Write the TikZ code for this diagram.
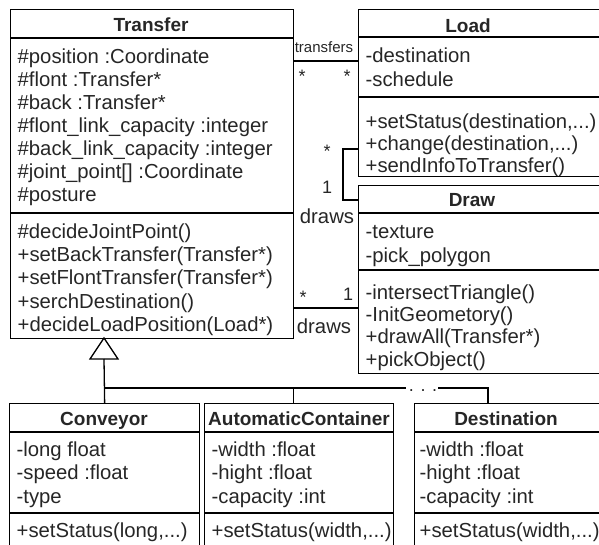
\documentclass[tikz,border=0pt]{standalone}
\usepackage{fontspec}
\setmainfont{Liberation Sans}
\newcommand\etcdots{...}
\begin{document}
\begin{tikzpicture}[x=1pt,y=-1pt,line width=1.3pt,
    every node/.style={inner sep=0pt,text=black!85,font=\fontsize{20.3}{23}\selectfont},
    classbox/.style={draw,anchor=north west},
    item/.style={anchor=base west},
    cname/.style={anchor=base,font=\fontsize{19}{23}\selectfont\bfseries},
    mult/.style={anchor=base,font=\fontsize{18}{20}\selectfont},
    role/.style={anchor=base}]
    \useasboundingbox (0,0) rectangle (599,545);
    \clip (0,0) rectangle (599,545);
    \node[classbox,minimum width=283,minimum height=329] (transfer) at (10,9) {};
    \node[classbox,minimum width=244,minimum height=167] (load) at (358,9) {};
    \node[classbox,minimum width=244,minimum height=188] (draw) at (358,185) {};
    \node[classbox,minimum width=190,minimum height=150] (conveyor) at (9,403) {};
    \node[classbox,minimum width=189,minimum height=150] (container) at (204,403) {};
    \node[classbox,minimum width=188,minimum height=150] (destination) at (414,403) {};
    \draw (10,38)--(293,38) (10,213)--(293,213);
    \draw (358,37)--(602,37) (358,97)--(602,97);
    \draw (358,213)--(602,213) (358,270)--(602,270);
    \foreach \a/\b in {9/199,204/393,414/602}
    {
        \draw (\a,432)--(\b,432) (\a,513)--(\b,513);
    }
    \node[cname] (transfer-name) at (151,32) {Transfer};
    \node[cname] (load-name) at (468,33) {Load};
    \node[cname] (draw-name) at (472,207) {Draw};
    \node[cname] (conveyor-name) at (104,425) {Conveyor};
    \node[cname] (container-name) at (299,425) {AutomaticContainer};
    \node[cname] (destination-name) at (506,425) {Destination};
    \foreach \txt [count=\i from 0] in {{\#position :Coordinate},{\#flont :Transfer*},
        {\#back :Transfer*},{\#flont\_link\_capacity :integer},{\#back\_link\_capacity :integer},
        {\#joint\_point[] :Coordinate},{\#posture}}
    {
        \node[item] (transfer-a\i) at (17,64+23*\i) {\txt};
    }
    \foreach \txt [count=\i from 0] in {{\#decideJointPoint()},{+setBackTransfer(Transfer*)},
        {+setFlontTransfer(Transfer*)},{+serchDestination()},{+decideLoadPosition(Load*)}}
    {
        \node[item] (transfer-m\i) at (17,238+23.4*\i) {\txt};
    }
    \foreach \txt [count=\i from 0] in {{-destination},{-schedule}}
    {
        \node[item] (load-a\i) at (365,63+23.5*\i) {\txt};
    }
    \foreach \txt [count=\i from 0] in {{+setStatus(destination,\etcdots)},{+change(destination,\etcdots)},
        {+sendInfoToTransfer()}}
    {
        \node[item] (load-m\i) at (365,129+21.8*\i) {\txt};
    }
    \foreach \txt [count=\i from 0] in {{-texture},{-pick\_polygon}}
    {
        \node[item] (draw-a\i) at (365,239+23*\i) {\txt};
    }
    \foreach \txt [count=\i from 0] in {{-intersectTriangle()},{-InitGeometory()},
        {+drawAll(Transfer*)},{+pickObject()}}
    {
        \node[item] (draw-m\i) at (365,299+22.4*\i) {\txt};
    }
    \foreach \x/\n/\p/\q/\r/\s in {16/conveyor/-long float/-speed :float/-type/{+setStatus(long,\etcdots)},
        211/container/-width :float/-hight :float/-capacity :int/{+setStatus(width,\etcdots)},
        419/destination/-width :float/-hight :float/-capacity :int/{+setStatus(width,\etcdots)}}
    {
        \node[item] (\n-a0) at (\x,456) {\p};
        \node[item] (\n-a1) at (\x,479) {\q};
        \node[item] (\n-a2) at (\x,503) {\r};
        \node[item] (\n-m0) at (\x,537) {\s};
    }
    \draw ([yshift=-52pt]transfer.north east)--([yshift=-52pt]load.north west);
    \node[role,font=\fontsize{15}{18}\selectfont] (transfers) at (324,53) {transfers};
    \node[mult] (tr-s1) at (302,83) {*};
    \node[mult] (tr-s2) at (347,83) {*};
    \draw ([yshift=-140pt]load.north west)--++(-15,0)|-([yshift=-15pt]draw.north west);
    \node[mult] (ld-s) at (327,158) {*};
    \node[mult] (ld-1) at (327,194) {1};
    \node[role] (draws-1) at (327,224) {draws};
    \draw ([yshift=-299pt]transfer.north east)--([yshift=-123pt]draw.north west);
    \node[mult] (td-s) at (303,303) {*};
    \node[mult] (td-1) at (348,300) {1};
    \node[role] (draws-2) at (324,333) {draws};
    \coordinate (apex) at (104,338);
    \draw (apex)--++(-14,21)--++(28,0)--cycle;
    \draw ([yshift=-21pt]apex)--(conveyor.north);
    \coordinate (bus) at (104,388);
    \coordinate (dots) at (423,388);
    \draw (bus)--([xshift=-17pt]dots);
    \node[mult] (more) at ([yshift=-3pt]dots) {. . .};
    \draw ([xshift=15pt]dots)-|([xshift=74pt]destination.north west);
    \draw ([xshift=-6pt]container.north)|-(bus);
\end{tikzpicture}
\end{document}
